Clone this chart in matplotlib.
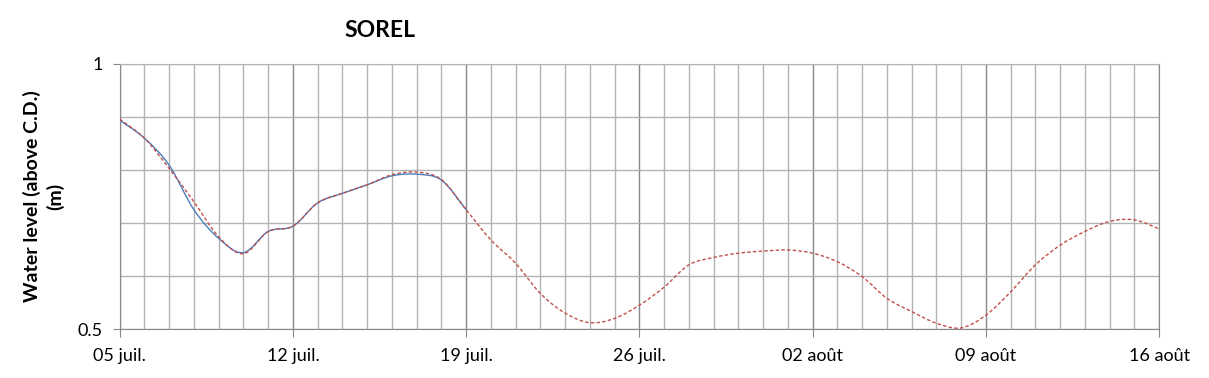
import numpy as np
import pandas as pd
import matplotlib
matplotlib.use('Agg')
import matplotlib.pyplot as plt
import matplotlib.dates as mdates
from matplotlib.path import Path
from matplotlib.patches import PathPatch

plt.rcParams['font.family'] = ['Lato', 'DejaVu Sans']

# ---------------- données (niveaux journaliers) ----------------
start = pd.Timestamp('2013-07-05')
obs_level = [0.894, 0.860, 0.809, 0.725, 0.671, 0.644, 0.684, 0.694, 0.738,
             0.756, 0.772, 0.789, 0.792, 0.781, 0.725]
pred_level = [0.896, 0.860, 0.803, 0.740, 0.674, 0.642, 0.684, 0.694, 0.738,
              0.756, 0.772, 0.791, 0.796, 0.782, 0.725, 0.668, 0.624, 0.567,
              0.530, 0.512, 0.520, 0.545, 0.579, 0.621, 0.635, 0.643, 0.647,
              0.649, 0.643, 0.627, 0.599, 0.558, 0.533, 0.511, 0.502, 0.526,
              0.570, 0.621, 0.658, 0.684, 0.703, 0.706, 0.689]
tick_labels = ['05 juil.', '12 juil.', '19 juil.', '26 juil.', '02 août', '09 août', '16 août']

obs_dates = pd.date_range(start, periods=len(obs_level), freq='D')
pred_dates = pd.date_range(start, periods=len(pred_level), freq='D')


def smooth_path(dates, vals):
    # courbe lissée type Excel (Bézier Catmull-Rom)
    x = mdates.date2num(dates.to_pydatetime())
    y = np.asarray(vals)
    n = len(x)
    verts = [(x[0], y[0])]
    codes = [Path.MOVETO]
    for i in range(n - 1):
        p0 = (x[max(i - 1, 0)], y[max(i - 1, 0)])
        p1 = (x[i], y[i])
        p2 = (x[i + 1], y[i + 1])
        p3 = (x[min(i + 2, n - 1)], y[min(i + 2, n - 1)])
        c1 = (p1[0] + (p2[0] - p0[0]) / 6, p1[1] + (p2[1] - p0[1]) / 6)
        c2 = (p2[0] - (p3[0] - p1[0]) / 6, p2[1] - (p3[1] - p1[1]) / 6)
        verts += [c1, c2, p2]
        codes += [Path.CURVE4] * 3
    return Path(verts, codes)


fig = plt.figure(figsize=(12.09, 3.78), dpi=100)
ax = fig.add_axes([0.099, 0.1296, 0.8597, 0.7011])

ax.add_patch(PathPatch(smooth_path(obs_dates, obs_level), fill=False,
                       edgecolor='#4a7ebb', lw=1.0, zorder=3))
ax.add_patch(PathPatch(smooth_path(pred_dates, pred_level), fill=False,
                       edgecolor='#c0504d', lw=1.0, linestyle=(0, (2.5, 1.6)), zorder=4))

ax.set_xlim(mdates.date2num(pred_dates[0].to_pydatetime()),
            mdates.date2num(pred_dates[-1].to_pydatetime()))
ax.set_ylim(0.5, 1.0)

major = pd.date_range(start, pred_dates[-1], freq='7D')
ax.set_xticks(mdates.date2num(major.to_pydatetime()))
ax.set_xticklabels(tick_labels, fontsize=13)
ax.set_xticks(mdates.date2num(pred_dates.to_pydatetime()), minor=True)
ax.set_yticks([0.5, 1.0])
ax.set_yticklabels(['0.5', '1'], fontsize=13)
ax.set_yticks([0.6, 0.7, 0.8, 0.9], minor=True)

ax.grid(True, which='minor', color='#b3b3b3', lw=1.0)
ax.grid(True, which='major', axis='x', color='#888888', lw=1.0)
ax.grid(True, which='major', axis='y', color='#b3b3b3', lw=1.0)
ax.set_axisbelow(True)
ax.tick_params(axis='x', which='major', length=6, color='#888888', pad=8)
ax.tick_params(axis='y', which='major', length=5, color='#888888', pad=7)
ax.tick_params(which='minor', length=0)

for side in ['left', 'bottom', 'right']:
    ax.spines[side].set_color('#888888')
ax.spines['top'].set_color('#b3b3b3')

ax.set_ylabel('Water level (above C.D.)\n(m)', fontsize=14, fontweight='bold',
              labelpad=10, linespacing=1.35)
fig.text(0.314, 0.92, 'SOREL', fontsize=16.5, fontweight='bold', ha='center', va='center')

fig.savefig('out.png', dpi=100)
